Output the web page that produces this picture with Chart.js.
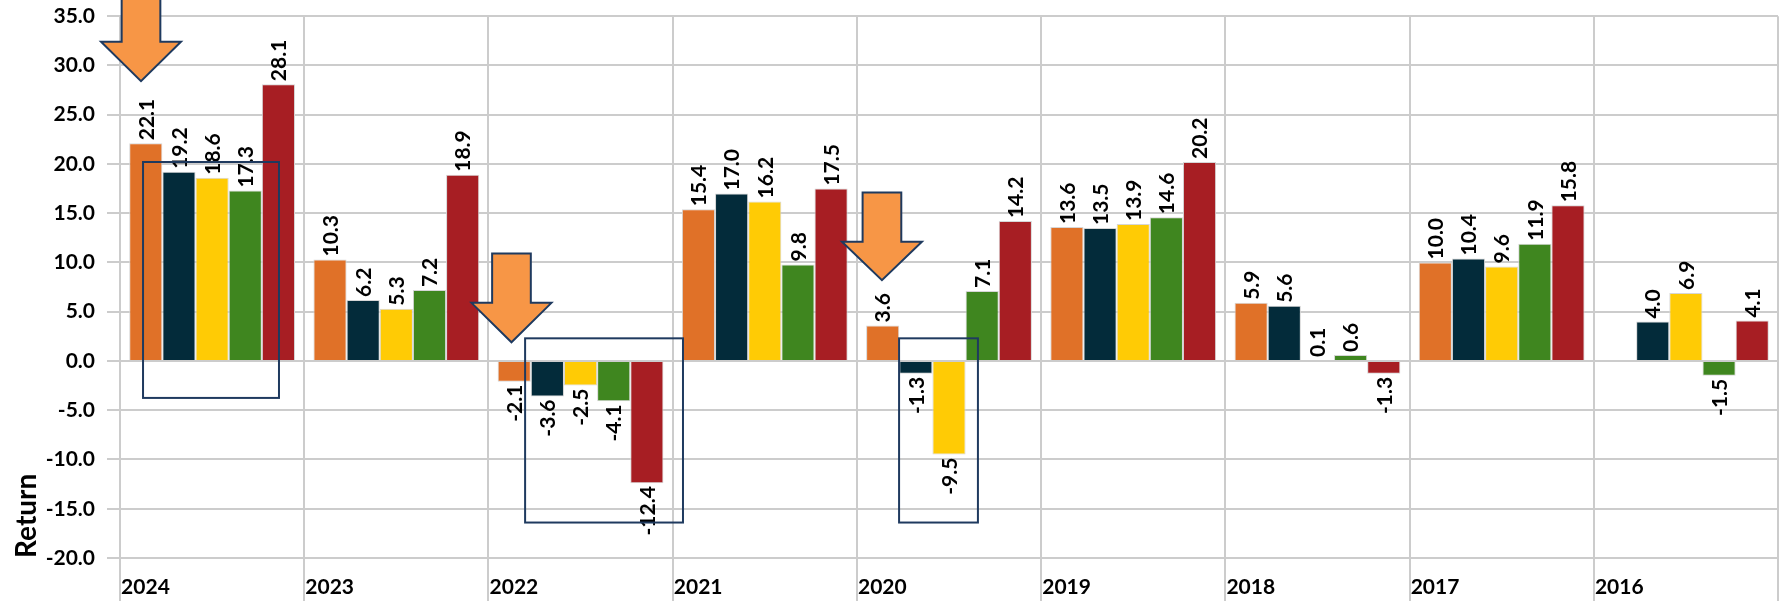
<!DOCTYPE html>
<html>
<head>
<meta charset="utf-8">
<script src="https://cdn.jsdelivr.net/npm/chart.js@4.4.1/dist/chart.umd.min.js"></script>
<style>
  html, body { margin: 0; padding: 0; background: #fff; }
</style>
</head>
<body>
<canvas id="returns-chart" width="1781" height="601"></canvas>
<script>
const years = ['2024', '2023', '2022', '2021', '2020', '2019', '2018', '2017', '2016'];
const fundA = [22.1, 10.3, -2.1, 15.4, 3.6, 13.6, 5.9, 10.0, null];
const fundB = [19.2, 6.2, -3.6, 17.0, -1.3, 13.5, 5.6, 10.4, 4.0];
const fundC = [18.6, 5.3, -2.5, 16.2, -9.5, 13.9, 0.1, 9.6, 6.9];
const fundD = [17.3, 7.2, -4.1, 9.8, 7.1, 14.6, 0.6, 11.9, -1.5];
const fundE = [28.1, 18.9, -12.4, 17.5, 14.2, 20.2, -1.3, 15.8, 4.1];
const yTicks = [-20, -15, -10, -5, 0, 5, 10, 15, 20, 25, 30, 35];

// callouts, in category / value units
const boxes = [
  { cat: 0, from: -0.375, to: 0.363, top: 20.2, bottom: -3.75 },
  { cat: 2, from: -0.301, to: 0.556, top: 2.3, bottom: -16.4 },
  { cat: 4, from: -0.271, to: 0.157, top: 2.3, bottom: -16.4 }
];
const arrows = [
  { cat: 0, at: -0.386, tip: 28.4, shoulder: 32.4, tail: 38.5 },
  { cat: 2, at: -0.375, tip: 1.9, shoulder: 5.9, tail: 10.9 },
  { cat: 4, at: -0.364, tip: 8.2, shoulder: 12.1, tail: 17.1 }
];

const colors = ['#e07128', '#032b3a', '#ffcb05', '#3f861f', '#a71e23'];
const series = [fundA, fundB, fundC, fundD, fundE];

const valueLabels = {
  id: 'valueLabels',
  afterDatasetsDraw(chart) {
    const ctx = chart.ctx;
    ctx.save();
    ctx.font = 'bold 21px Lato';
    ctx.fillStyle = '#000';
    ctx.textBaseline = 'middle';
    chart.data.datasets.forEach((ds, di) => {
      chart.getDatasetMeta(di).data.forEach((bar, i) => {
        const v = ds.data[i];
        if (v === null) return;
        ctx.save();
        if (v >= 0) {
          ctx.translate(bar.x + 1, bar.y - 3);
          ctx.textAlign = 'left';
        } else {
          ctx.translate(bar.x + 1, bar.y + 3);
          ctx.textAlign = 'right';
        }
        ctx.rotate(-Math.PI / 2);
        ctx.fillText(v.toFixed(1), 0, 0);
        ctx.restore();
      });
    });
    ctx.restore();
  }
};

const callouts = {
  id: 'callouts',
  afterDraw(chart) {
    const { ctx, scales: { x, y } } = chart;
    const cw = x.getPixelForValue(1) - x.getPixelForValue(0);
    ctx.save();
    ctx.strokeStyle = '#1f3a5f';
    ctx.lineWidth = 2;
    boxes.forEach(b => {
      const c = x.getPixelForValue(b.cat);
      const x1 = c + b.from * cw, x2 = c + b.to * cw;
      const y1 = y.getPixelForValue(b.top), y2 = y.getPixelForValue(b.bottom);
      ctx.strokeRect(x1, y1, x2 - x1, y2 - y1);
    });
    ctx.fillStyle = '#f79646';
    ctx.lineJoin = 'miter';
    arrows.forEach(a => {
      const cx = x.getPixelForValue(a.cat) + a.at * cw;
      const head = 0.217 * cw, shaft = 0.105 * cw;
      const yt = y.getPixelForValue(a.tip);
      const ys = y.getPixelForValue(a.shoulder);
      const ya = y.getPixelForValue(a.tail);
      ctx.beginPath();
      ctx.moveTo(cx - shaft, ya);
      ctx.lineTo(cx + shaft, ya);
      ctx.lineTo(cx + shaft, ys);
      ctx.lineTo(cx + head, ys);
      ctx.lineTo(cx, yt);
      ctx.lineTo(cx - head, ys);
      ctx.lineTo(cx - shaft, ys);
      ctx.closePath();
      ctx.fill();
      ctx.stroke();
    });
    ctx.restore();
  }
};

new Chart(document.getElementById('returns-chart').getContext('2d'), {
  type: 'bar',
  data: {
    labels: years,
    datasets: series.map((s, i) => ({
      label: 'Fund ' + (i + 1),
      data: s,
      backgroundColor: colors[i],
      borderColor: '#d6d6d6',
      borderWidth: 1,
      categoryPercentage: 0.9,
      barPercentage: 1.0
    }))
  },
  options: {
    responsive: false,
    animation: false,
    layout: { padding: { top: 15, right: 3, left: 0, bottom: 0 } },
    plugins: {
      legend: { display: false },
      tooltip: { enabled: false }
    },
    scales: {
      x: {
        grid: { color: '#cccccc', lineWidth: 2, offset: true, tickLength: 43, tickColor: '#cccccc' },
        border: { display: false },
        ticks: {
          color: '#000',
          font: { family: 'Lato', size: 21, weight: 'bold' },
          align: 'start',
          labelOffset: -91,
          padding: -26,
          maxRotation: 0
        },
        afterFit(scale) { scale.height = 43; }
      },
      y: {
        min: -20,
        max: 35,
        afterBuildTicks(scale) { scale.ticks = yTicks.map(v => ({ value: v })); },
        grid: { color: '#cccccc', lineWidth: 2, tickLength: 13, tickColor: '#cccccc' },
        border: { display: false },
        ticks: {
          color: '#000',
          font: { family: 'Lato', size: 21, weight: 'bold', lineHeight: 0.4 },
          padding: 12,
          callback: v => Number(v).toFixed(1)
        },
        title: {
          display: true,
          text: 'Return',
          align: 'start',
          color: '#000',
          font: { family: 'Lato', size: 28, weight: 'bold' },
          padding: { top: 10, bottom: 0 }
        },
        afterFit(scale) { scale.width = 120; }
      }
    }
  },
  plugins: [valueLabels, callouts]
});
</script>
</body>
</html>
